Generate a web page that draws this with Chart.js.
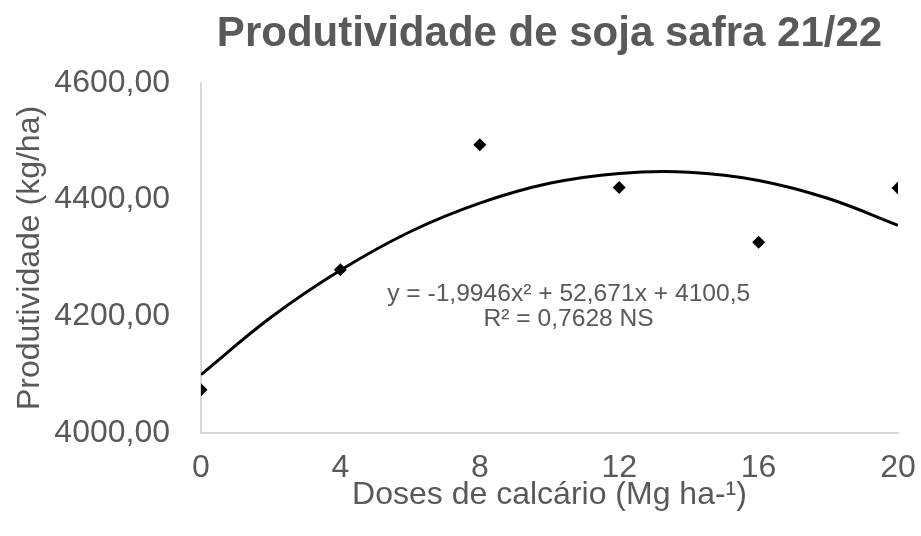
<!DOCTYPE html>
<html>
<head>
<meta charset="utf-8">
<script src="https://cdn.jsdelivr.net/npm/chart.js@4.4.0/dist/chart.umd.min.js"></script>
<style>
  html, body { margin:0; padding:0; background:#fff; }
  #wrap { width:921px; height:536px; }
</style>
</head>
<body>
<div id="wrap"><canvas id="chart"></canvas></div>
<script>
// ── DATA ──────────────────────────────────────────────────
const doses        = [0, 4, 8, 12, 16, 20];
const produtividade = [4074, 4280, 4494, 4421, 4327, 4420];

// trend curve
const trendX = [0, 2, 4, 6, 8, 10, 12, 14, 16, 18, 20];
const trendY = [4100, 4198, 4279, 4345, 4394, 4428, 4445, 4447, 4433, 4402, 4356];

const eqLines = ['y = -1,9946x² + 52,671x + 4100,5', 'R² = 0,7628 NS'];

const TXT  = '#595959';
const AXIS = '#d9d9d9';
const FONT = "'Liberation Sans', Arial, sans-serif";

// ── EQUATION LABEL ────────────────────────────────────────
const eqLabel = {
  id: 'eqLabel',
  afterDatasetsDraw(chart) {
    const { ctx, scales:{ x, y } } = chart;
    ctx.save();
    ctx.font = `24.6px ${FONT}`;
    ctx.fillStyle = TXT;
    ctx.textAlign = 'center';
    ctx.textBaseline = 'middle';
    const cx = x.getPixelForValue(10.55);
    ctx.fillText(eqLines[0], cx, y.getPixelForValue(4238));
    ctx.fillText(eqLines[1], cx, y.getPixelForValue(4195));
    ctx.restore();
  }
};

const ctx = document.getElementById('chart').getContext('2d');
new Chart(ctx, {
  type: 'scatter',
  data: {
    datasets: [
      {
        label: 'Produtividade',
        data: doses.map((d, i) => ({ x:d, y:produtividade[i] })),
        pointStyle: 'rectRot',
        pointRadius: 6.5,
        pointHoverRadius: 6.5,
        backgroundColor: '#000',
        borderColor: '#000',
        borderWidth: 0,
        order: 0,
      },
      {
        label: 'Tendência',
        type: 'line',
        data: trendX.map((d, i) => ({ x:d, y:trendY[i] })),
        borderColor: '#000',
        borderWidth: 3,
        pointRadius: 0,
        fill: false,
        tension: 0.4,
        order: 1,
      }
    ]
  },
  options: {
    responsive: true,
    maintainAspectRatio: false,
    animation: false,
    layout: { padding: { left:0, right:23, top:0, bottom:0 } },
    plugins: {
      legend: { display:false },
      tooltip: { enabled:false },
      title: {
        display: true,
        fullSize: false,
        text: 'Produtividade de soja safra 21/22',
        color: TXT,
        font: { family:FONT, size:42, weight:'bold' },
        padding: { top:9, bottom:23.6 },
      }
    },
    scales: {
      x: {
        type: 'linear',
        min: 0, max: 20,
        ticks: { stepSize:4, color:TXT, font:{ family:FONT, size:32 }, padding:16 },
        grid: { display:false, drawTicks:false },
        border: { display:true, color:AXIS, width:2 },
        title: {
          display: true,
          text: 'Doses de calcário (Mg ha-¹)',
          color: TXT,
          font: { family:FONT, size:32 },
          padding: { top:0, bottom:22 },
        },
        afterFit(scale) { scale.height = 103; scale.paddingRight = 0; scale.paddingLeft = 0; }
      },
      y: {
        min: 4000, max: 4600,
        ticks: {
          stepSize: 200, color:TXT, font:{ family:FONT, size:32 }, padding:31,
          callback: v => v.toFixed(2).replace('.', ',')
        },
        grid: { display:false, drawTicks:false },
        border: { display:true, color:AXIS, width:2 },
        title: {
          display: true,
          text: 'Produtividade (kg/ha)',
          color: TXT,
          font: { family:FONT, size:32 },
          padding: { top:11, bottom:0 },
        },
        afterFit(scale) { scale.width = 201; }
      }
    }
  },
  plugins: [eqLabel]
});
</script>
</body>
</html>
